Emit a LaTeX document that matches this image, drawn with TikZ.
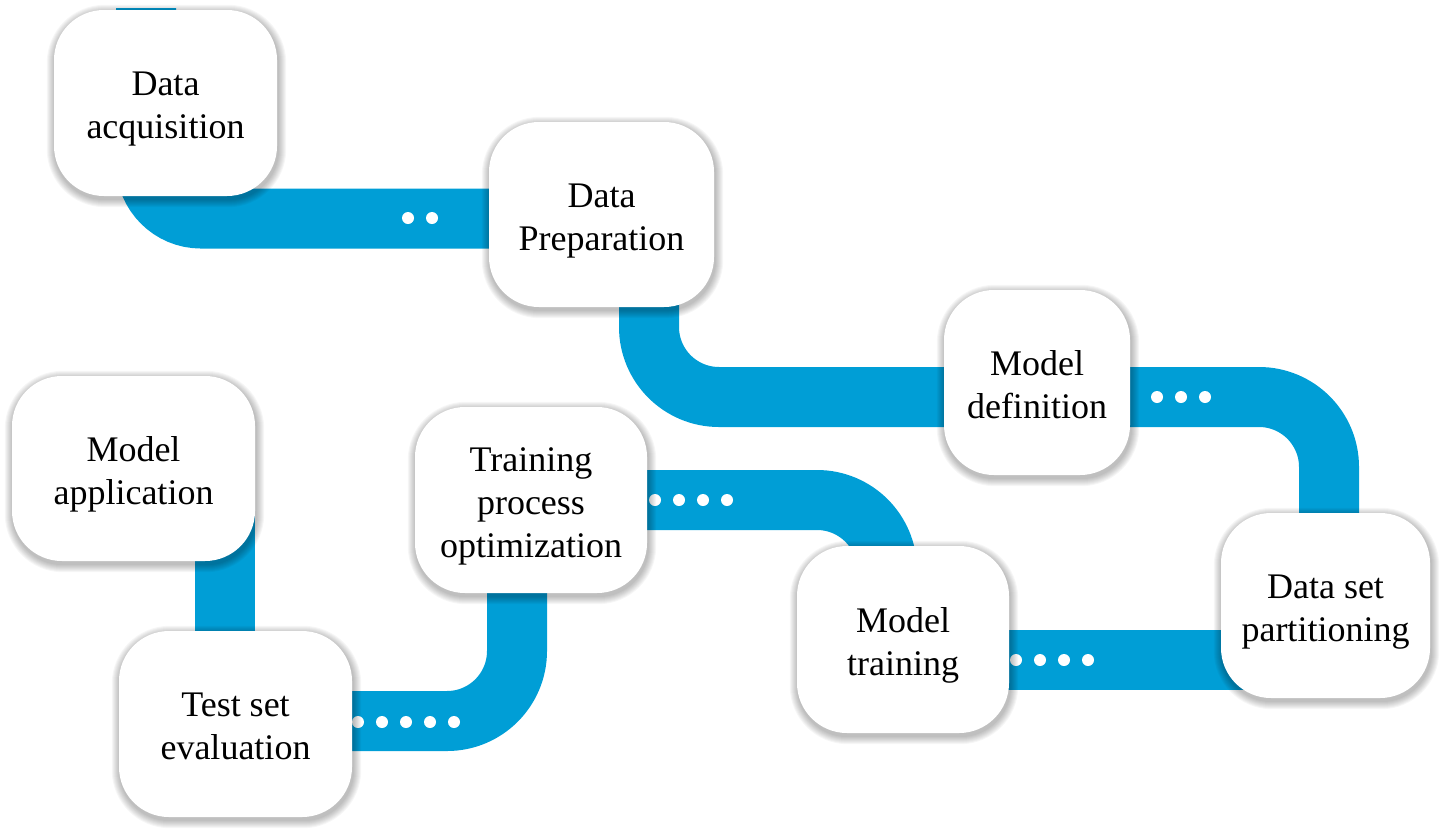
\documentclass[tikz,border=0pt]{standalone}
\usepackage{fontspec}
\setmainfont{Liberation Serif}
\usetikzlibrary{calc}
\definecolor{bandblue}{RGB}{0,158,214}
\pgfdeclarelayer{bands}
\pgfdeclarelayer{shadowlayer}
\pgfsetlayers{bands,shadowlayer,main}
\tikzset{
  steptext/.style={align=center, inner sep=0pt, yshift=-5.5pt, font=\fontsize{36}{43}\selectfont},
  stepbox/.style={rectangle, rounded corners=50pt, fill=white, inner sep=0pt,
    label={[steptext]center:#1}},
  band/.style={line width=60pt, draw=bandblue},
  dotw/.style={fill=white},
}
\begin{document}
\begin{tikzpicture}[x=1pt,y=-1pt]
\useasboundingbox (0,0) rectangle (1440,828);

\node[stepbox={\strut Data\\\strut acquisition}, minimum width=223pt, minimum height=186pt] (acq) at (165.5,103) {};
\node[stepbox={\strut Data\\\strut Preparation}, minimum width=225pt, minimum height=185pt] (prep) at (601.5,214.5) {};
\node[stepbox={\strut Model\\\strut definition}, minimum width=186pt, minimum height=185pt] (def) at (1037,382.5) {};
\node[stepbox={\strut Data set\\\strut partitioning}, minimum width=209pt, minimum height=185pt] (part) at (1325.5,605.5) {};
\node[stepbox={\strut Model\\\strut training}, minimum width=212pt, minimum height=187pt] (train) at (903,639.5) {};
\node[stepbox={\strut Training\\\strut process\\\strut optimization}, minimum width=232pt, minimum height=186pt] (opt) at (531,500) {};
\node[stepbox={\strut Test set\\\strut evaluation}, minimum width=233pt, minimum height=186pt] (test) at (235.5,724) {};
\node[stepbox={\strut Model\\\strut application}, minimum width=243pt, minimum height=185pt] (app) at (133.5,468.5) {};

\begin{pgfonlayer}{shadowlayer}
\foreach \n in {acq,prep,def,part,train,opt,test,app}{
  \foreach \i in {1,...,8}{
    \fill[black, opacity=0.035, rounded corners={50+\i}]
      ($(\n.south west)+(-\i+1,\i+3)$) rectangle ($(\n.north east)+(\i+1,-\i+3)$);
  }
}
\end{pgfonlayer}

\begin{pgfonlayer}{bands}
\coordinate (a0) at (146,8);
\draw[band, rounded corners=55pt] (a0) |- ($(prep.center)+(0,4)$);
\draw[band, rounded corners=70pt] ($(prep.center)+(47.5,0)$) |- ($(def.center)+(0,14.5)$);
\draw[band, rounded corners=70pt] ($(def.center)+(0,14.5)$) -| ($(part.center)+(3.5,0)$);
\draw[band] ($(train.center)+(0,20.5)$) -- ($(part.center)+(0,54.5)$);
\draw[band, rounded corners=70pt] (opt.center) -| ($(train.center)+(-16,0)$);
\draw[band, rounded corners=70pt] ($(test.center)+(0,-3)$) -| ($(opt.center)+(-14,0)$);
\draw[band] ($(app.center)+(91.5,0)$) -- ($(test.center)+(-10.5,0)$);

\foreach \x in {408,432} \fill[dotw] (\x,218) circle (6);
\foreach \x in {1157,1181,1205} \fill[dotw] (\x,397) circle (6);
\foreach \x in {1016,1040,1064,1088} \fill[dotw] (\x,660) circle (6);
\foreach \x in {655,679,703,727} \fill[dotw] (\x,500) circle (6);
\foreach \x in {358,382,406,430,454} \fill[dotw] (\x,722) circle (6);
\end{pgfonlayer}
\end{tikzpicture}
\end{document}
